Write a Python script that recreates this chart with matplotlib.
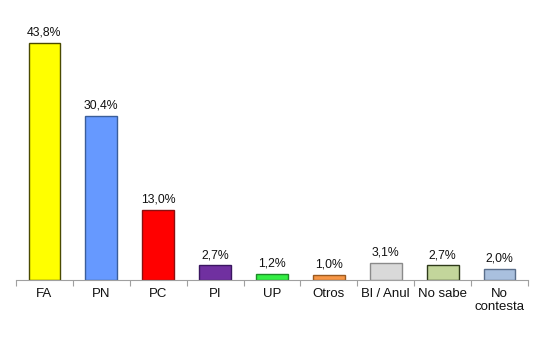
import matplotlib.pyplot as plt
import numpy as np

categories = ["FA", "PN", "PC", "PI", "UP", "Otros", "Bl / Anul", "No sabe", "No\ncontesta"]
values = [43.8, 30.4, 13.0, 2.7, 1.2, 1.0, 3.1, 2.7, 2.0]
labels = ["43,8%", "30,4%", "13,0%", "2,7%", "1,2%", "1,0%", "3,1%", "2,7%", "2,0%"]
colors = ["#FFFF00", "#6699FF", "#FF0000", "#7030A0", "#33EE44",
          "#F79646", "#D9D9D9", "#C3D69B", "#A9C0DE"]
edges = ["#4A4A00", "#3A5E9A", "#8A1010", "#3A1660", "#1E8A28",
         "#9A5A20", "#8A8A8A", "#2E3A1A", "#5A6E8A"]

plt.rcParams["font.family"] = ["Liberation Sans", "DejaVu Sans"]

fig = plt.figure(figsize=(5.37, 3.48), dpi=100)
ax = fig.add_axes([0.0298, 0.1954, 0.9534, 0.7471])

x = np.arange(len(categories))
ax.bar(x, values, width=0.56, color=colors, edgecolor=edges, linewidth=1.0)
for xi, v, lab in zip(x, values, labels):
    ax.text(xi, v + 0.8, lab, ha="center", va="bottom", fontsize=8.8, color="#111111")

ax.set_xlim(-0.5, len(categories) - 0.5)
ax.set_ylim(0, 48.06)
for s in ["top", "right", "left"]:
    ax.spines[s].set_visible(False)
ax.spines["bottom"].set_color("#A0A0A0")
ax.set_yticks([])

ax.set_xticks(np.arange(-0.5, len(categories)), minor=False)
ax.set_xticklabels([])
ax.tick_params(axis="x", which="major", length=4, color="#A0A0A0", direction="out")
ax.set_xticks(x, minor=True)
ax.set_xticklabels(categories, minor=True, fontsize=9.5, color="#111111", linespacing=1.1)
ax.tick_params(axis="x", which="minor", length=0, pad=6)

fig.savefig("out.png", dpi=100)
